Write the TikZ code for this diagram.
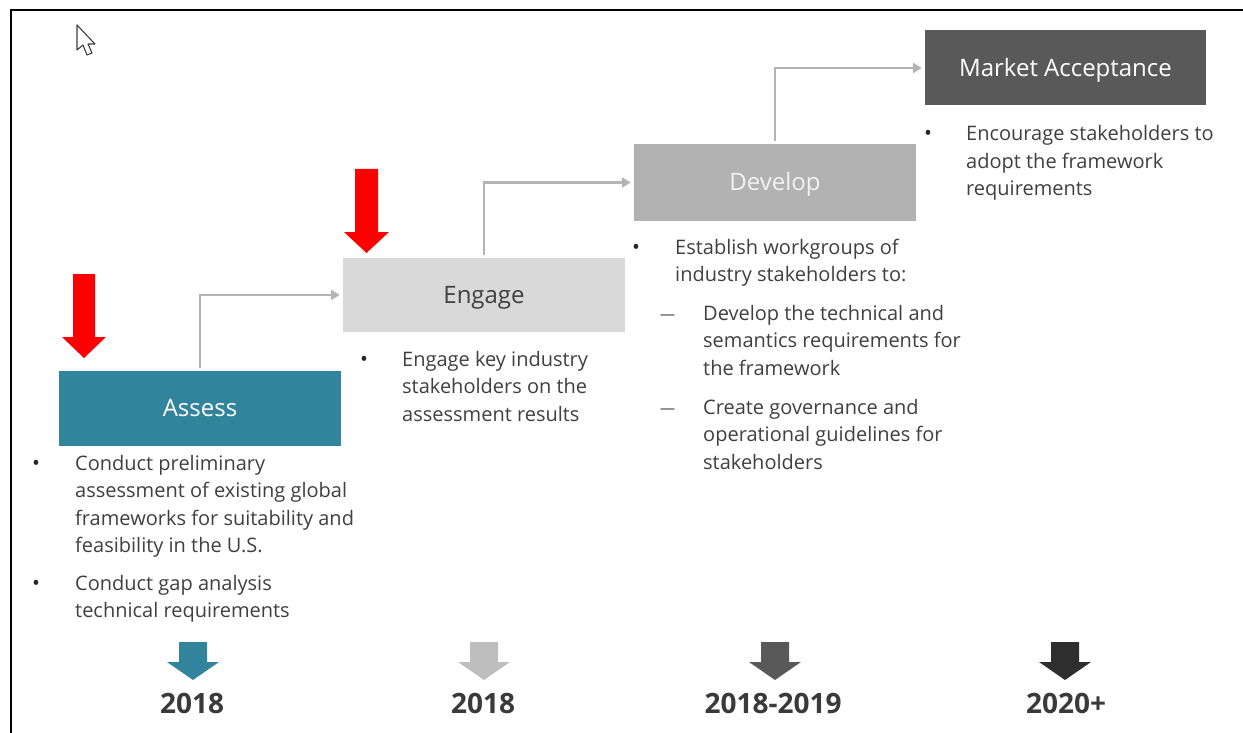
\documentclass[tikz,border=0pt]{standalone}
\usepackage{fontspec}
\setmainfont{Open Sans}
\usetikzlibrary{arrows.meta}
\definecolor{tealfive}{HTML}{31849B}
\definecolor{engagegray}{HTML}{D9D9D9}
\definecolor{devgray}{HTML}{B2B2B2}
\definecolor{mktgray}{HTML}{595959}
\definecolor{txtgray}{HTML}{404040}
\definecolor{conngray}{HTML}{B4B4B4}
\definecolor{darkestgray}{HTML}{2E2E2E}
\definecolor{yeartext}{HTML}{3A3A3A}
\begin{document}
\begin{tikzpicture}[x=1pt,y=-1pt,
  stage/.style={rectangle, inner sep=0pt, minimum width=282pt, text height=16.5pt, text depth=0pt, font=\fontsize{24}{28}\selectfont},
  conn/.style={draw=conngray, line width=2.4pt, -{Triangle[length=9pt,width=10pt]}, shorten >=3pt, shorten <=3pt},
  body/.style={anchor=base west, inner sep=0pt, text=txtgray, font=\fontsize{20}{27.5}\selectfont},
  bulletsign/.style={anchor=base west, inner sep=0pt, text=black!85, font=\fontsize{21}{24}\selectfont},
  dashsign/.style={anchor=base west, inner sep=0pt, text=txtgray, font=\fontsize{15}{20}\selectfont},
  redarrow/.style={fill=red},
  year/.style={inner sep=0pt, text=yeartext, font=\fontsize{28}{32}\bfseries\selectfont},
  yeararrow/.pic={\fill (-14,0) -- (14,0) -- (14,20) -- (26,20) -- (0,38) -- (-26,20) -- (-14,20) -- cycle;}
]
\useasboundingbox (0,0) rectangle (1243,733);
\fill[white] (0,0) rectangle (1243,733);
% frame
\draw[line width=2pt] (11,733) -- (11,10) -- (1243,10);
% cursor
\draw[line width=1.1pt, draw=black!75, fill=white, line join=round]
  (77,25) -- (77,50) -- (83,45) -- (87,55) -- (92,53) -- (88,44) -- (95,44) -- cycle;

% stage boxes
\node[stage, fill=tealfive, text=white, minimum height=75pt] (assess) at (200,408.5) {Assess};
\node[stage, fill=engagegray, text=txtgray, minimum height=74pt] (engage) at (484,295) {Engage};
\node[stage, fill=devgray, text=white!95!black, minimum height=77pt] (develop) at (775,182.5) {Develop};
\node[stage, fill=mktgray, text=white, minimum width=281pt, minimum height=75pt] (market) at (1065.5,68) {Market Acceptance};

% connectors
\draw[conn] (assess.north) |- (engage.west);
\draw[conn] (engage.north) |- (develop.west);
\draw[conn] (develop.north) |- (market.west);

% red arrows
\fill[redarrow] (73,274) -- (95,274) -- (95,337) -- (106,337) -- (84,358) -- (62,337) -- (73,337) -- cycle;
\fill[redarrow] (355,169) -- (378,169) -- (378,232) -- (389,232) -- (366.5,253) -- (344,232) -- (355,232) -- cycle;

% assess text
\node[bulletsign] (ab1) at (32,470) {•};
\node[body] (at1) at (75,470) {\parbox[t]{320pt}{\raggedright Conduct preliminary\\assessment of existing global\\frameworks for suitability and\\feasibility in the U.S.}};
\node[bulletsign] (ab2) at (32,590) {•};
\node[body] (at2) at (75,590) {\parbox[t]{320pt}{\raggedright Conduct gap analysis\\technical requirements}};

% engage text
\node[bulletsign] (eb1) at (360,366) {•};
\node[body] (et1) at (402,366) {\parbox[t]{260pt}{\raggedright Engage key industry\\stakeholders on the\\assessment results}};

% develop text
\node[bulletsign] (db1) at (632,254) {•};
\node[body] (dt1) at (675,254) {\parbox[t]{300pt}{\raggedright Establish workgroups of\\industry stakeholders to:}};
\node[dashsign] (dd1) at (660,319) {—};
\node[body] (dt2) at (703,320) {\parbox[t]{300pt}{\raggedright Develop the technical and\\semantics requirements for\\the framework}};
\node[dashsign] (dd2) at (660,413) {—};
\node[body] (dt3) at (703,414) {\parbox[t]{300pt}{\raggedright Create governance and\\operational guidelines for\\stakeholders}};

% market text
\node[bulletsign] (mb1) at (924,141) {•};
\node[body] (mt1) at (966,141) {\parbox[t]{280pt}{\raggedright Encourage stakeholders to\\adopt the framework\\requirements}};

% timeline arrows
\pic[color=tealfive] (ya1) at (193,642) {yeararrow};
\pic[color=devgray!85!white] (ya2) at (484,642) {yeararrow};
\pic[color=mktgray] (ya3) at (775,642) {yeararrow};
\pic[color=darkestgray] (ya4) at (1065,642) {yeararrow};

% years
\node[year] (y1) at (192,703) {2018};
\node[year] (y2) at (483,703) {2018};
\node[year] (y3) at (773,703) {2018-2019};
\node[year] (y4) at (1066,703) {2020+};
\end{tikzpicture}
\end{document}
